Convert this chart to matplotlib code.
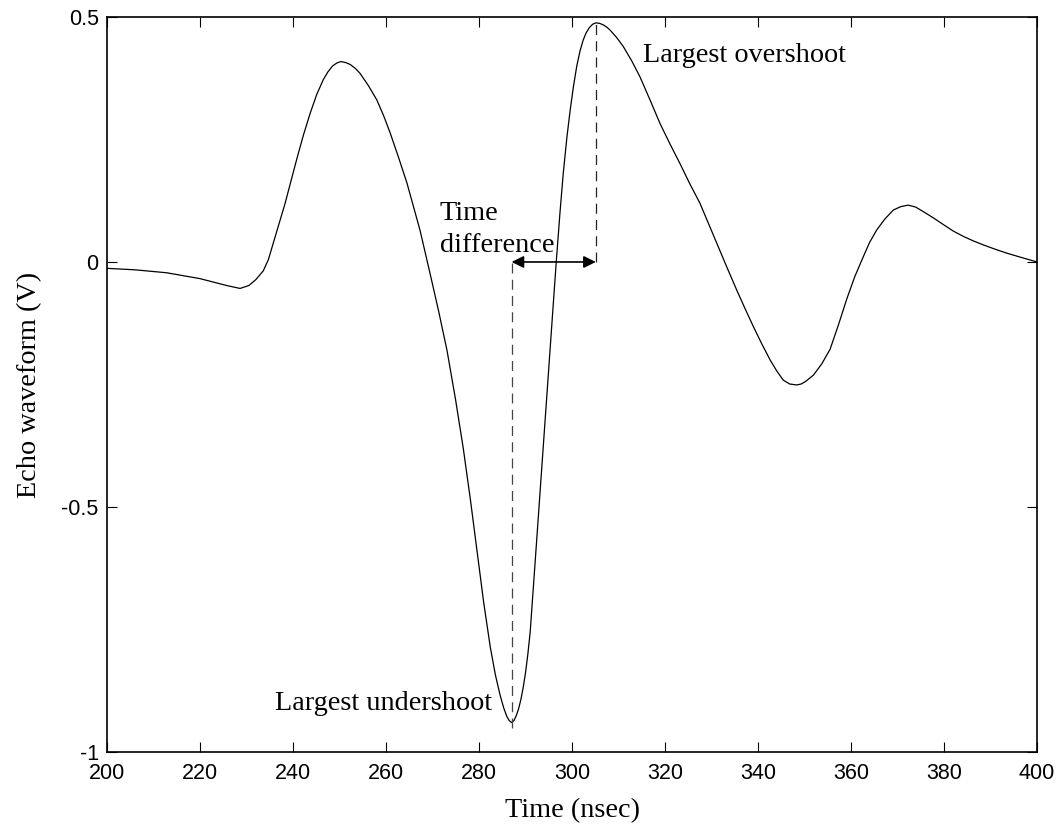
import matplotlib
matplotlib.use('Agg')
import matplotlib.pyplot as plt

# ── data ─────────────────────────────────────────────────────────
time_ns = [200.0, 206.0, 212.8, 220.0, 225.7, 228.6, 230.5, 232.0, 233.6, 234.7,
           235.8, 237.0, 238.3, 239.5, 240.8, 242.2, 243.7, 245.1, 246.5, 247.5,
           248.5, 249.4, 250.3, 251.3, 252.3, 253.4, 254.4, 256.2, 258.0, 259.5,
           260.9, 262.7, 264.5, 265.9, 267.3, 268.4, 269.5, 271.3, 273.1, 274.9,
           276.6, 278.1, 279.5, 281.0, 282.4, 283.5, 284.5, 285.3, 286.0, 286.5,
           287.0, 287.5, 288.0, 288.5, 289.0, 289.5, 290.0, 290.5, 291.0, 291.6,
           292.6, 293.6, 294.6, 295.6, 296.6, 297.4, 298.1, 298.9, 299.6, 300.3,
           301.0, 301.7, 302.4, 303.0, 303.7, 304.4, 305.1, 305.9, 306.7, 307.5,
           308.2, 309.6, 311.0, 312.8, 314.6, 316.8, 318.9, 321.0, 323.2, 325.3,
           327.5, 329.5, 331.5, 333.4, 335.4, 337.2, 339.0, 340.8, 342.6, 344.0,
           345.4, 346.8, 348.3, 349.3, 350.2, 351.9, 353.7, 355.5, 357.3, 359.1,
           360.8, 362.6, 364.0, 365.5, 367.3, 369.1, 370.7, 372.3, 373.9, 375.5,
           377.7, 379.9, 382.0, 384.2, 386.3, 388.4, 391.0, 393.5, 396.7, 400.0]
echo_v = [-0.013, -0.016, -0.022, -0.034, -0.048, -0.054, -0.048, -0.036, -0.018, 0.005,
          0.040, 0.078, 0.120, 0.163, 0.210, 0.258, 0.304, 0.342, 0.372, 0.388,
          0.400, 0.406, 0.409, 0.407, 0.403, 0.395, 0.385, 0.360, 0.331, 0.298,
          0.263, 0.213, 0.161, 0.113, 0.065, 0.020, -0.025, -0.100, -0.180, -0.278,
          -0.380, -0.482, -0.585, -0.695, -0.785, -0.842, -0.883, -0.910, -0.928, -0.936,
          -0.940, -0.936, -0.926, -0.912, -0.893, -0.868, -0.838, -0.800, -0.755, -0.675,
          -0.540, -0.405, -0.270, -0.135, 0.000, 0.100, 0.180, 0.255, 0.310, 0.358,
          0.399, 0.430, 0.453, 0.467, 0.478, 0.485, 0.488, 0.487, 0.484, 0.479,
          0.473, 0.458, 0.440, 0.411, 0.378, 0.330, 0.283, 0.242, 0.201, 0.160,
          0.120, 0.075, 0.030, -0.013, -0.057, -0.095, -0.132, -0.167, -0.200, -0.222,
          -0.241, -0.249, -0.251, -0.249, -0.244, -0.231, -0.208, -0.178, -0.128, -0.075,
          -0.030, 0.010, 0.040, 0.065, 0.088, 0.106, 0.113, 0.116, 0.112, 0.103,
          0.090, 0.076, 0.063, 0.052, 0.043, 0.035, 0.026, 0.018, 0.009, 0.000]

t_under, v_under = 287.0, -0.94     # largest undershoot
t_over, v_over = 305.1, 0.488       # largest overshoot

xticks = [200, 220, 240, 260, 280, 300, 320, 340, 360, 380, 400]
yticks = [-1, -0.5, 0, 0.5]
ytick_labels = ['-1', '-0.5', '0', '0.5']

SANS = 'Liberation Sans'
SERIF = 'Liberation Serif'
plt.rcParams['axes.unicode_minus'] = False

fig = plt.figure(figsize=(10.62, 8.36), dpi=100)
ax = fig.add_axes([0.1008, 0.1005, 0.8757, 0.8792])

ax.plot(time_ns, echo_v, color='black', lw=0.9)

# dashed markers down to the undershoot / up to the overshoot
ax.plot([t_under, t_under], [v_under - 0.012, 0], color='#444444', lw=0.9,
        dashes=(8, 5))
ax.plot([t_over, t_over], [0, v_over], color='#222222', lw=0.9, dashes=(8, 5))
ax.annotate('', xy=(t_under, 0), xytext=(t_over, 0),
            arrowprops=dict(arrowstyle='<|-|>', color='black', lw=1.2,
                            mutation_scale=18, shrinkA=0, shrinkB=0))

ax.text(271.6, 0.0857, 'Time', family=SERIF, fontsize=20.3,
        ha='left', va='baseline')
ax.text(271.6, 0.021, 'difference', family=SERIF, fontsize=20.3,
        ha='left', va='baseline')
ax.text(315.3, 0.408, 'Largest overshoot', family=SERIF, fontsize=20.3,
        ha='left', va='baseline')
ax.text(236.1, -0.914, 'Largest undershoot', family=SERIF, fontsize=20.3,
        ha='left', va='baseline')

ax.set_xlim(200, 400)
ax.set_ylim(-1, 0.5)
ax.set_xticks(xticks)
ax.set_yticks(yticks)
ax.set_yticklabels(ytick_labels)
ax.tick_params(direction='in', length=7, width=0.8, top=True, right=True,
               labelsize=15.5)
ax.tick_params(axis='x', pad=8)
ax.tick_params(axis='y', pad=6)
for lab in ax.get_xticklabels() + ax.get_yticklabels():
    lab.set_family(SANS)
for sp in ax.spines.values():
    sp.set_linewidth(1.2)

ax.set_xlabel('Time (nsec)', family=SERIF, fontsize=20.3, labelpad=10)
ax.set_ylabel('Echo waveform (V)', family=SERIF, fontsize=20.3, labelpad=14)

fig.savefig('out.png', dpi=100, facecolor='white')
